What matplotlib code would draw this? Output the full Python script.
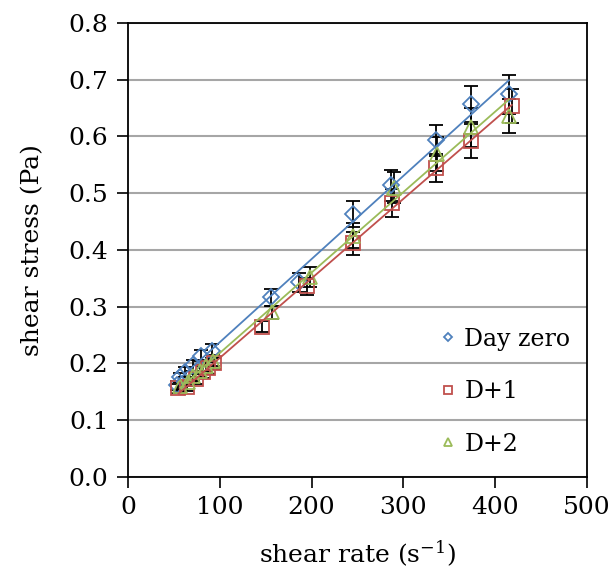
import numpy as np
import matplotlib
matplotlib.use("Agg")
import matplotlib.pyplot as plt

plt.rcParams['font.family'] = ['DejaVu Serif']
plt.rcParams['mathtext.default'] = 'regular'

# shear rate (1/s) and shear stress (Pa)
day0_x = [53, 57, 62, 71, 80, 91, 156, 186, 245, 286, 336, 374, 415]
day0_y = [0.162, 0.176, 0.185, 0.197, 0.214, 0.222, 0.317, 0.343, 0.463, 0.514, 0.593, 0.657, 0.674]
day0_err = [0.008, 0.008, 0.009, 0.010, 0.010, 0.012, 0.015, 0.017, 0.023, 0.027, 0.028, 0.032, 0.034]

d1_x = [55, 64, 74, 82, 87, 94, 146, 195, 245, 288, 336, 374, 418]
d1_y = [0.156, 0.159, 0.173, 0.185, 0.192, 0.200, 0.265, 0.336, 0.412, 0.483, 0.544, 0.592, 0.654]
d1_err = [0.008, 0.008, 0.009, 0.010, 0.010, 0.010, 0.010, 0.015, 0.020, 0.025, 0.025, 0.030, 0.030]

d2_x = [57, 65, 71, 78, 85, 93, 157, 198, 245, 290, 337, 374, 415]
d2_y = [0.160, 0.168, 0.178, 0.187, 0.196, 0.205, 0.290, 0.352, 0.425, 0.510, 0.569, 0.616, 0.636]
d2_err = [0.008, 0.008, 0.009, 0.010, 0.010, 0.010, 0.012, 0.018, 0.022, 0.028, 0.030, 0.035, 0.030]

labels = ["Day zero", "D+1", "D+2"]
colors = ["#4F81BD", "#C0504D", "#9BBB59"]
markers = ["D", "s", "^"]
msizes = [8, 10, 10]

fig = plt.figure(figsize=(6.13, 5.81), dpi=100)
ax = fig.add_axes([0.2088, 0.179, 0.7488, 0.7815])

series = [(day0_x, day0_y, day0_err), (d1_x, d1_y, d1_err), (d2_x, d2_y, d2_err)]
for (x, y, e), lab, c, m, ms in zip(series, labels, colors, markers, msizes):
    x = np.array(x)
    y = np.array(y)
    ax.errorbar(x, y, yerr=e, fmt='none', ecolor='black', elinewidth=1.3,
                capsize=5, capthick=1.3, zorder=3)
    ax.plot(x, y, linestyle='none', marker=m, markersize=ms,
            markerfacecolor='none', markeredgecolor=c, markeredgewidth=1.3,
            label=lab, zorder=4)
    # linear trendline
    k, b = np.polyfit(x, y, 1)
    xs = np.array([x.min(), x.max()])
    ax.plot(xs, k * xs + b, color=c, linewidth=1.3, zorder=5)

ax.set_xlim(0, 500)
ax.set_ylim(0, 0.8)
ax.set_xticks(np.arange(0, 501, 100))
ax.set_yticks(np.arange(0, 0.81, 0.1))
ax.set_yticklabels(["%.1f" % v for v in np.arange(0, 0.81, 0.1)])
ax.yaxis.grid(True, color='#A6A6A6', linewidth=1.5)
ax.set_axisbelow(True)
ax.tick_params(axis='both', direction='out', length=8, width=1.2, labelsize=18, pad=6)
for s in ax.spines.values():
    s.set_linewidth(1.3)
    s.set_color('black')

ax.set_xlabel("shear rate (s$^{-1}$)", fontsize=18, labelpad=14)
ax.set_ylabel("shear stress (Pa)", fontsize=18, labelpad=18)

ax.legend(loc='lower right', frameon=False, fontsize=17, markerscale=0.55,
          labelspacing=1.25, handlelength=0.6, handletextpad=0.4,
          bbox_to_anchor=(1.01, 0.0))

fig.savefig("out.png", dpi=100)
